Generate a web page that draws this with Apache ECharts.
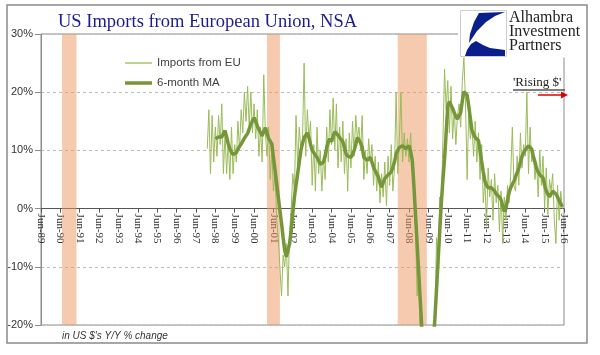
<!DOCTYPE html>
<html><head><meta charset="utf-8">
<script src="https://cdn.jsdelivr.net/npm/echarts@6/dist/echarts.min.js"></script>
<style>html,body{margin:0;padding:0;background:#fff}#c{width:600px;height:355px}</style>
</head><body><div id="c"></div>
<script>
// Axis runs monthly from Jun-1989 to Jun-2016
const axisStartYear = 1989, axisStartMonth = 6;
const axisEndYear = 2016, axisEndMonth = 6;
const yTicks = [-20, -10, 0, 10, 20, 30];

// Imports from EU, Y/Y % change, monthly from Jan-1998
const importsStart = '1998-01';
const importsEU = [
  10.3, 17, 6, 16, 8, 14, 9, 16, 11, 18, 6, 13,
  6, 12, 5, 14, 6, 11, 8, 15, 10, 17, 13, 20,
  15, 21, 14, 20, 13, 18, 12, 17, 9, 14, 8, 23,
  13, 9, 14, 5, 10, 3, 6, -2, -5, -10, -15, -8,
  -10, -6, -15, -4, 0, 6, 3, 16, 7, 14, 10, 12,
  25, 9, 17, 12, 15, 4, 11, 3, 14, 6, 10, 3,
  9, 5, 14, 8, 17, 11, 19, 10, 18, 7, 14, 8,
  15, 6, 12, 3, 13, 7, 15, 9, 16, 12, 14, 10,
  16, 5, 10, 6, 12, 8, 11, 4, 9, 3, 8, 1,
  6, 2, 8, 0.5, 9, 4, 11, 3, 7, 20, 6, 12,
  20, 8, 13, 9, 12, 8, 13, 7, 4, -3, -15, -10,
  -24, -28, -27, -33, -34, -31, -30, -28, -25, -22, -5, -10,
  2, 0, 12, 24, 17, 22, 13, 21, 12, 17, 11, 16,
  18, 14, 22, 26, 18, 5, 17, 12, 14, 9, 15, 8,
  13, 5, 11, 1, 5, -3, 7, 2, 5, -2, 6, 1,
  4, -4, 3, -6, 2, -2, 4, 1, 6, 14, 4, 3,
  9, 4, 13, 7, 11, 9, 20, 6, 14, 8, 10, 5,
  8, 2, 10, 4, 9, 0, 7, -1, 5, 3, 6, -2,
  -6, 4, -2, 3, 0
];

// 6-month moving average, monthly from Jun-1998
const maStart = '1998-06';
const ma6 = [
  12.0, 12.2, 12.3, 12.2, 12.3, 12.9, 13.4,
  12.3, 11.1, 10.3, 9.7, 9.3, 9.1, 9.6, 10.2, 10.7, 11.1, 11.6, 12.1,
  12.5, 12.9, 13.7, 14.5, 15.1, 15.6, 15.0, 14.2, 13.6, 13.4, 12.5, 12.2,
  13.9, 13.0, 12.0, 11.6, 11.1, 8.8, 6.6, 4.3, 2.0, -0.3, -2.5, -5.0,
  -7.2, -8.3, -8.1, -6.0, -3.7, -0.8, 2.0, 4.0, 6.0, 8.0, 10.0, 11.2,
  12.2, 12.6, 13.0, 12.2, 11.0, 10.0, 9.6, 9.4, 8.8, 8.2, 7.6, 7.4,
  8.0, 9.0, 10.5, 11.5, 12.0, 11.5, 12.5, 13.2, 13.0, 12.6, 12.2, 12.2,
  11.5, 10.5, 9.4, 9.0, 8.8, 8.8, 9.3, 10.0, 11.0, 12.2, 11.8, 11.3,
  10.5, 8.8, 8.5, 8.3, 8.5, 8.8, 8.0, 7.1, 6.5, 6.0, 5.4, 4.5,
  3.7, 4.5, 5.2, 5.5, 5.8, 6.0, 6.3, 6.6, 8.0, 9.4, 10.0, 10.5,
  10.7, 10.8, 10.5, 10.3, 10.5, 10.8, 9.8, 8.3, 4.0, -1.0, -6.0, -11.0,
  -16.0, -21.0, -25.0, -28.0, -29.0, -30.0, -29.0, -26.0, -23.0, -19.0, -14.0, -9.0,
  -4.0, 1.0, 5.0, 8.5, 13.0, 17.6, 18.4, 18.2, 17.2, 16.5, 15.8, 15.4,
  15.6, 16.5, 18.5, 20.1, 20.3, 19.5, 17.6, 15.5, 13.4, 12.8, 12.2, 12.0,
  11.7, 10.0, 8.1, 6.3, 4.7, 4.0, 3.6, 3.5, 3.6, 3.6, 3.0, 2.5,
  2.2, 2.0, 1.5, 0.5, -0.5, 0.0, 1.5, 2.8, 3.6, 4.2, 4.7, 5.5,
  6.2, 6.9, 8.0, 9.0, 9.6, 10.1, 10.4, 10.8, 11.0, 10.2, 9.0, 8.0,
  6.9, 6.3, 5.8, 5.5, 5.3, 4.0, 3.0, 2.5, 2.0, 2.5, 3.0, 2.8,
  2.5, 2.0, 1.4, 0.8, 0.3
];

// Recession shading (start, end months)
const recessionStart = ['1990-07', '2001-02', '2007-11'];
const recessionEnd   = ['1991-04', '2001-10', '2009-05'];

function monthIndex(s) {
  const [y, m] = s.split('-').map(Number);
  return (y - axisStartYear) * 12 + (m - axisStartMonth);
}
const xMax = (axisEndYear - axisStartYear) * 12 + (axisEndMonth - axisStartMonth);
const i0 = monthIndex(importsStart), m0 = monthIndex(maStart);
const importsData = importsEU.map((v, i) => [i0 + i, v]);
const maData = ma6.map((v, i) => [m0 + i, v]);
const bands = recessionStart.map((s, i) => [{ xAxis: monthIndex(s) }, { xAxis: monthIndex(recessionEnd[i]) }]);

// layout
const G = { left: 41, right: 36, top: 34, bottom: 30 };
const plotH = 355 - G.top - G.bottom;
const yMin = yTicks[0], yMax = yTicks[yTicks.length - 1];
const zeroFromBottom = plotH * (0 - yMin) / (yMax - yMin);

const legendText = { fontSize: 11.5, color: '#404040', fontFamily: 'Liberation Sans' };

const chart = echarts.init(document.getElementById('c'), null, { renderer: 'canvas' });
chart.setOption({
  animation: false,
  backgroundColor: '#fff',
  grid: Object.assign({ show: true, borderColor: '#8c8c8c', borderWidth: 1, backgroundColor: 'transparent' }, G),
  legend: [
    { left: 125, top: 57, padding: 0, icon: 'rect', itemWidth: 27, itemHeight: 1.3, data: ['Imports from EU'], textStyle: legendText },
    { left: 125, top: 77, padding: 0, icon: 'rect', itemWidth: 27, itemHeight: 3.5, data: ['6-month MA'], textStyle: legendText }
  ],
  xAxis: {
    type: 'value', min: 0, max: xMax, interval: 12,
    offset: -zeroFromBottom,
    axisLine: { onZero: false, lineStyle: { color: '#555', width: 1 } },
    axisTick: { show: true, length: 4, lineStyle: { color: '#555' } },
    splitLine: { show: false },
    axisLabel: {
      rotate: -90, margin: 5, fontSize: 11, color: '#333', fontFamily: 'Liberation Serif',
      showMinLabel: true, showMaxLabel: true,
      formatter: v => 'Jun-' + String((axisStartYear + v / 12) % 100).padStart(2, '0')
    }
  },
  yAxis: {
    type: 'value', min: yMin, max: yMax, interval: 10,
    axisLine: { show: true, lineStyle: { color: '#8c8c8c' } },
    axisTick: { show: true, length: 6, lineStyle: { color: '#8c8c8c' } },
    splitLine: { show: true, lineStyle: { color: '#bdbdbd', type: [3, 3], width: 1 } },
    axisLabel: { formatter: '{value}%', fontSize: 11, color: '#333', fontFamily: 'Liberation Sans', margin: 8 }
  },
  series: [
    { name: 'Imports from EU', type: 'line', data: importsData, symbol: 'none', z: 2,
      lineStyle: { color: '#9BBB59', width: 1 }, itemStyle: { color: '#9BBB59' }, clip: true },
    { name: '6-month MA', type: 'line', data: maData, symbol: 'none', z: 3,
      lineStyle: { color: '#76963A', width: 3.5 }, itemStyle: { color: '#76963A' }, clip: true },
    { name: 'recessions', type: 'line', data: [], z: 4, silent: true,
      markArea: { silent: true, itemStyle: { color: 'rgba(236,150,95,0.5)' }, data: bands } }
  ],
  graphic: [
    { type: 'rect', z: 100, shape: { x: 7, y: 5, width: 580, height: 338 }, style: { fill: 'none', stroke: '#8a8a8a', lineWidth: 1.5 } },
    { type: 'text', z: 100, x: 58, y: 22.3, style: { text: 'US Imports from European Union, NSA', font: '18.5px "Liberation Serif"', fill: '#1c1c8c', verticalAlign: 'middle' } },
    { type: 'rect', z: 100, shape: { x: 458, y: 6.5, width: 127, height: 51 }, style: { fill: '#fff' } },
    { type: 'rect', z: 101, shape: { x: 460.5, y: 10.5, width: 46, height: 46 }, style: { fill: '#fff', stroke: '#cfcfcf', lineWidth: 1 } },
    { type: 'polygon', z: 102, shape: { points: [[479, 13], [505, 12], [495, 16], [486, 22], [477, 31], [469, 43], [470, 34], [474, 22]] }, style: { fill: '#0b1f8c' } },
    { type: 'polygon', z: 102, shape: { points: [[465, 56], [467, 50], [471, 44], [476, 41], [483, 45], [490, 48], [505, 50], [505, 56]] }, style: { fill: '#0b1f8c' } },
    { type: 'text', z: 102, x: 509, y: 17.6, style: { text: 'Alhambra', font: '16px "Liberation Serif"', fill: '#222', verticalAlign: 'middle' } },
    { type: 'text', z: 102, x: 509, y: 31.6, style: { text: 'Investment', font: '16px "Liberation Serif"', fill: '#222', verticalAlign: 'middle' } },
    { type: 'text', z: 102, x: 509, y: 45.6, style: { text: 'Partners', font: '16px "Liberation Serif"', fill: '#222', verticalAlign: 'middle' } },
    { type: 'text', z: 100, x: 513, y: 83, style: { text: "'Rising $'", font: '13px "Liberation Serif"', fill: '#222', verticalAlign: 'middle' } },
    { type: 'line', z: 100, shape: { x1: 513, y1: 90, x2: 565, y2: 90 }, style: { stroke: '#555', lineWidth: 1.5 } },
    { type: 'line', z: 100, shape: { x1: 538, y1: 95, x2: 562, y2: 95 }, style: { stroke: '#e00000', lineWidth: 1.5 } },
    { type: 'polygon', z: 100, shape: { points: [[561, 91.5], [568, 95], [561, 98.5]] }, style: { fill: '#e00000' } },
    { type: 'text', z: 100, x: 62, y: 336, style: { text: "in US $'s Y/Y % change", font: 'italic 10px "Liberation Sans"', fill: '#333', verticalAlign: 'middle' } }
  ]
});
</script>
</body></html>
